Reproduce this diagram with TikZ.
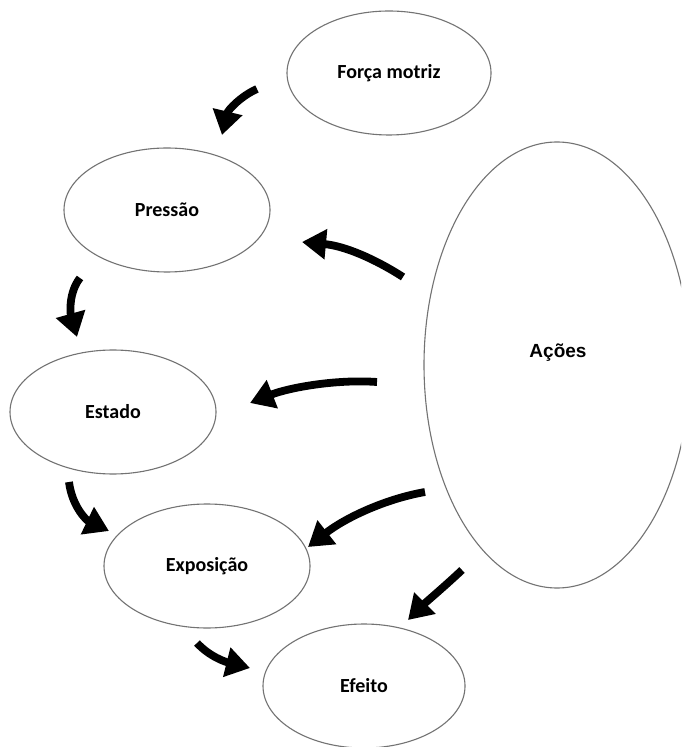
\documentclass[tikz,border=0pt]{standalone}
\usepackage{fontspec}
\setmainfont{Carlito}
\newfontfamily\arialfont{Liberation Sans}
\usetikzlibrary{shapes.geometric,arrows.meta}
\begin{document}
\begin{tikzpicture}[x=0.5pt,y=-0.5pt,
  stage/.style={ellipse,draw=black!55,line width=0.55pt,minimum width=103pt,minimum height=62pt,inner sep=0pt,font=\fontsize{10}{12}\selectfont\bfseries},
  flow/.style={line width=3.9pt,black,-{Triangle[length=12pt,width=14.5pt]}}]
\useasboundingbox (0,0) rectangle (681,747);
\clip (0,0) rectangle (681,747);
\fill[white] (0,0) rectangle (681,747);
% ellipses
\node[stage,minimum width=102pt] (forca) at (389,73) {Força motriz};
\node[stage] (pressao) at (167,210) {Pressão};
\node[stage] (estado) at (113,412) {Estado};
\node[stage] (exposicao) at (207,566) {Exposição};
\node[stage,minimum width=101pt] (efeito) at (364,686) {Efeito};
\node[stage,minimum width=133pt,minimum height=223pt] (acoes) at (557,365) {};
\node[font=\arialfont\fontsize{9.5}{11}\selectfont\bfseries] (acoeslbl) at (558,353) {Ações};
% arrow end points
\coordinate (a1s) at (257,89);   \coordinate (a1e) at (222,135);
\coordinate (a2s) at (403,277);  \coordinate (a2e) at (302,242);
\coordinate (a3s) at (80,278);   \coordinate (a3e) at (77,337);
\coordinate (a4s) at (377,382);  \coordinate (a4e) at (250,403);
\coordinate (a5s) at (69,482);   \coordinate (a5e) at (109,531);
\coordinate (a6s) at (425,492);  \coordinate (a6e) at (308,547);
\coordinate (a7s) at (197,643);  \coordinate (a7e) at (250,668);
\coordinate (a8s) at (462,570);  \coordinate (a8e) at (408,620);
% arrows
\draw[flow] (a1s) .. controls (241,96) and (228,110) .. (a1e);
\draw[flow] (a2s) .. controls (375,259) and (345,246) .. (a2e);
\draw[flow] (a3s) .. controls (69,292) and (70,312) .. (a3e);
\draw[flow] (a4s) .. controls (335,379) and (288,388) .. (a4e);
\draw[flow] (a5s) .. controls (72,506) and (86,520) .. (a5e);
\draw[flow] (a6s) .. controls (385,499) and (345,518) .. (a6e);
\draw[flow] (a7s) .. controls (210,657) and (226,662) .. (a7e);
\draw[flow] (a8s) .. controls (445,586) and (425,603) .. (a8e);
\end{tikzpicture}
\end{document}
